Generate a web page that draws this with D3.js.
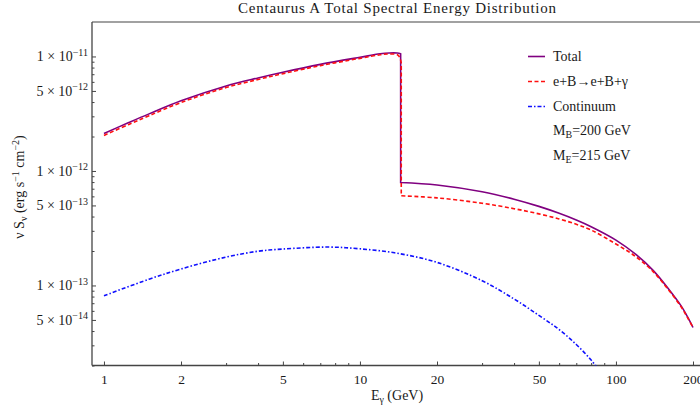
<!DOCTYPE html>
<html>
<head>
<meta charset="utf-8">
<script src="https://cdn.jsdelivr.net/npm/d3@7/dist/d3.min.js"></script>
<style>
  html, body { margin: 0; padding: 0; background: #fff; }
  svg { display: block; }
  text { font-family: "Liberation Serif", "DejaVu Serif", serif; fill: #1a1a1a; }
</style>
</head>
<body>
<svg id="chart" width="700" height="411"></svg>
<script>
// Photon energy E_γ (GeV) and ν S_ν (erg s⁻¹ cm⁻²) for each component.
// Total: below and above the kinematic edge near 14.5 GeV.
const totalEnergyLow  = [1, 1.25, 1.5, 2, 3, 4, 5, 7, 10, 12, 13, 14, 14.42];
const totalFluxLow    = [2.126e-12, 2.647e-12, 3.152e-12, 4.10e-12, 5.53e-12, 6.497e-12, 7.285e-12, 8.53e-12, 9.84e-12, 1.0546e-11, 1.0717e-11, 1.071e-11, 1.056e-11];
const totalEnergyHigh = [14.42, 20, 30, 40, 50, 60, 70, 80, 100, 120, 140, 160, 180, 190, 200];
const totalFluxHigh   = [7.94e-13, 7.545e-13, 6.58e-13, 5.67e-13, 4.906e-13, 4.272e-13, 3.733e-13, 3.262e-13, 2.491e-13, 1.858e-13, 1.349e-13, 9.41e-14, 6.596e-14, 5.37e-14, 4.296e-14];

// e+B → e+B+γ
const brehmEnergyLow  = [1, 1.25, 1.5, 2, 3, 4, 5, 7, 10, 12, 13, 14, 14.3, 14.5];
const brehmFluxLow    = [2.045e-12, 2.549e-12, 3.039e-12, 3.961e-12, 5.353e-12, 6.298e-12, 7.077e-12, 8.314e-12, 9.631e-12, 1.0346e-11, 1.052e-11, 1.035e-11, 9.8e-12, 8.8e-12];
const brehmEnergyHigh = [14.5, 20, 30, 40, 50, 60, 70, 80, 100, 120, 140, 160, 180, 190, 200];
const brehmFluxHigh   = [6.071e-13, 5.82e-13, 5.223e-13, 4.685e-13, 4.22e-13, 3.81e-13, 3.423e-13, 3.047e-13, 2.303e-13, 1.774e-13, 1.315e-13, 9.23e-14, 6.48e-14, 5.28e-14, 4.296e-14];

// Continuum
const contEnergy = [1, 1.5, 2, 3, 4, 5, 7.5, 10, 14, 20, 30, 40, 50, 60, 70, 80, 90];
const contFlux   = [8.13e-14, 1.135e-13, 1.393e-13, 1.77e-13, 1.99e-13, 2.08e-13, 2.165e-13, 2.09e-13, 1.91e-13, 1.59e-13, 1.10e-13, 7.62e-14, 5.48e-14, 4.12e-14, 3.05e-14, 2.23e-14, 1.6e-14];

// Axis ticks
const xMajorTicks = [1, 2, 5, 10, 20, 50, 100, 200];
const xMinorTicks = [3, 4, 6, 7, 8, 9, 30, 40, 60, 70, 80, 90];
const yMajorTicks = [1e-11, 5e-12, 1e-12, 5e-13, 1e-13, 5e-14];
const yMinorTicks = [2e-14, 3e-14, 4e-14, 6e-14, 7e-14, 8e-14, 9e-14,
                     2e-13, 3e-13, 4e-13, 6e-13, 7e-13, 8e-13, 9e-13,
                     2e-12, 3e-12, 4e-12, 6e-12, 7e-12, 8e-12, 9e-12];

// Legend entries
const legendLabels = ["Total", "e+B→e+B+γ", "Continuum"];
const massLabels = [["M", "B", "=200 GeV"], ["M", "E", "=215 GeV"]];

const svg = d3.select("#chart");
const plot = { left: 92, right: 700, top: 22, bottom: 365.5 };

const x = d3.scaleLog().domain([0.898, 213]).range([plot.left, plot.right]);
const y = d3.scaleLog().domain([2e-14, 2e-11]).range([plot.bottom, plot.top]);

svg.append("defs").append("clipPath").attr("id", "plotClip")
  .append("rect")
  .attr("x", plot.left).attr("y", plot.top)
  .attr("width", plot.right - plot.left).attr("height", plot.bottom - plot.top);

// Title
svg.append("text")
  .attr("x", 397).attr("y", 13)
  .attr("text-anchor", "middle")
  .attr("font-size", 15)
  .attr("textLength", 318)
  .attr("lengthAdjust", "spacing")
  .text("Centaurus A Total Spectral Energy Distribution");

// Frame lines
const axisColor = "#444";
svg.append("line").attr("x1", plot.left).attr("x2", plot.right)
  .attr("y1", plot.top).attr("y2", plot.top)
  .attr("stroke", axisColor).attr("stroke-width", 1.1);
svg.append("line").attr("x1", plot.left).attr("x2", plot.left)
  .attr("y1", plot.top).attr("y2", plot.bottom)
  .attr("stroke", axisColor).attr("stroke-width", 1.3);
svg.append("line").attr("x1", plot.left).attr("x2", plot.right)
  .attr("y1", plot.bottom).attr("y2", plot.bottom)
  .attr("stroke", axisColor).attr("stroke-width", 1.3);

// X axis (ticks point into the plot)
const xAxis = d3.axisBottom(x)
  .tickValues(xMajorTicks)
  .tickSizeInner(-4).tickSizeOuter(0).tickPadding(9)
  .tickFormat(d3.format("d"));
const gx = svg.append("g").attr("transform", `translate(0,${plot.bottom})`).call(xAxis);
gx.select(".domain").remove();
gx.selectAll(".tick line").attr("stroke", axisColor);
gx.selectAll(".tick text").attr("font-size", 13.5).attr("font-family", "Liberation Serif, serif").attr("fill", "#1a1a1a");

const xMinor = d3.axisBottom(x).tickValues(xMinorTicks).tickSizeInner(-2.5).tickSizeOuter(0).tickFormat("");
const gxm = svg.append("g").attr("transform", `translate(0,${plot.bottom})`).call(xMinor);
gxm.select(".domain").remove();
gxm.selectAll(".tick line").attr("stroke", axisColor);

// Y axis (ticks point into the plot), labels as m × 10^k
const yAxis = d3.axisLeft(y)
  .tickValues(yMajorTicks)
  .tickSizeInner(-4).tickSizeOuter(0)
  .tickFormat("");
const gy = svg.append("g").attr("transform", `translate(${plot.left},0)`).call(yAxis);
gy.select(".domain").remove();
gy.selectAll(".tick line").attr("stroke", axisColor);
gy.selectAll(".tick").each(function(d) {
  const exp = Math.floor(Math.log10(d) + 1e-9);
  const mant = Math.round(d / Math.pow(10, exp));
  const t = d3.select(this).append("text")
    .attr("x", -4).attr("y", 4.5)
    .attr("text-anchor", "end")
    .attr("font-size", 14);
  t.append("tspan").text(mant + " × 10");
  t.append("tspan").attr("dy", -5.5).attr("font-size", 10).text("\u2212" + Math.abs(exp));
});

const yMinor = d3.axisLeft(y).tickValues(yMinorTicks).tickSizeInner(-2.5).tickSizeOuter(0).tickFormat("");
const gym = svg.append("g").attr("transform", `translate(${plot.left},0)`).call(yMinor);
gym.select(".domain").remove();
gym.selectAll(".tick line").attr("stroke", axisColor);

// Axis titles
const xTitle = svg.append("text")
  .attr("x", 397).attr("y", 400)
  .attr("text-anchor", "middle")
  .attr("font-size", 14);
xTitle.append("tspan").text("E");
xTitle.append("tspan").attr("dy", 3).attr("font-size", 10).text("γ");
xTitle.append("tspan").attr("dy", -3).text(" (GeV)");

const yTitle = svg.append("text")
  .attr("transform", `translate(24,187) rotate(-90)`)
  .attr("text-anchor", "middle")
  .attr("font-size", 14);
yTitle.append("tspan").text("ν S");
yTitle.append("tspan").attr("dy", 3).attr("font-size", 10).text("ν");
yTitle.append("tspan").attr("dy", -3).text(" (erg s");
yTitle.append("tspan").attr("dy", -5.5).attr("font-size", 10).text("−1");
yTitle.append("tspan").attr("dy", 5.5).text(" cm");
yTitle.append("tspan").attr("dy", -5.5).attr("font-size", 10).text("−2");
yTitle.append("tspan").attr("dy", 5.5).text(")");

// Curves
const line = d3.line()
  .x(d => x(d[0]))
  .y(d => y(d[1]))
  .curve(d3.curveCatmullRom.alpha(0.5));

function zipPts(es, fs) { return es.map((e, i) => [e, fs[i]]); }

// A spectrum with a sharp edge: two smooth pieces joined by a vertical drop.
function edgedPath(eLow, fLow, eHigh, fHigh) {
  const a = line(zipPts(eLow, fLow));
  const b = line(zipPts(eHigh, fHigh));
  return a + "L" + b.slice(1);
}

const curves = svg.append("g").attr("clip-path", "url(#plotClip)");

curves.append("path")
  .attr("d", line(zipPts(contEnergy, contFlux)))
  .attr("fill", "none")
  .attr("stroke", "#1010ff")
  .attr("stroke-width", 1.6)
  .attr("stroke-dasharray", "4,2,1.5,2");

curves.append("path")
  .attr("d", edgedPath(totalEnergyLow, totalFluxLow, totalEnergyHigh, totalFluxHigh))
  .attr("fill", "none")
  .attr("stroke", "#800080")
  .attr("stroke-width", 1.6);

curves.append("path")
  .attr("d", edgedPath(brehmEnergyLow, brehmFluxLow, brehmEnergyHigh, brehmFluxHigh))
  .attr("fill", "none")
  .attr("stroke", "#ff1010")
  .attr("stroke-width", 1.6)
  .attr("stroke-dasharray", "4,2.5");

// Legend
const legend = svg.append("g");
const legendStyles = [
  { stroke: "#800080", dash: null },
  { stroke: "#ff1010", dash: "4,2.5" },
  { stroke: "#1010ff", dash: "4,2,1.5,2" }
];
const rowY = [56.5, 81.5, 106.5, 130.5, 155];
legendLabels.forEach((label, i) => {
  legend.append("line")
    .attr("x1", 528).attr("x2", 545)
    .attr("y1", rowY[i]).attr("y2", rowY[i])
    .attr("stroke", legendStyles[i].stroke)
    .attr("stroke-width", 1.6)
    .attr("stroke-dasharray", legendStyles[i].dash);
  legend.append("text")
    .attr("x", 553).attr("y", rowY[i] + 4.5)
    .attr("font-size", 14)
    .text(label);
});
massLabels.forEach((parts, i) => {
  const t = legend.append("text")
    .attr("x", 553).attr("y", rowY[3 + i] + 4.5)
    .attr("font-size", 14);
  t.append("tspan").text(parts[0]);
  t.append("tspan").attr("dy", 3).attr("font-size", 10).text(parts[1]);
  t.append("tspan").attr("dy", -3).text(parts[2]);
});
</script>
</body>
</html>
